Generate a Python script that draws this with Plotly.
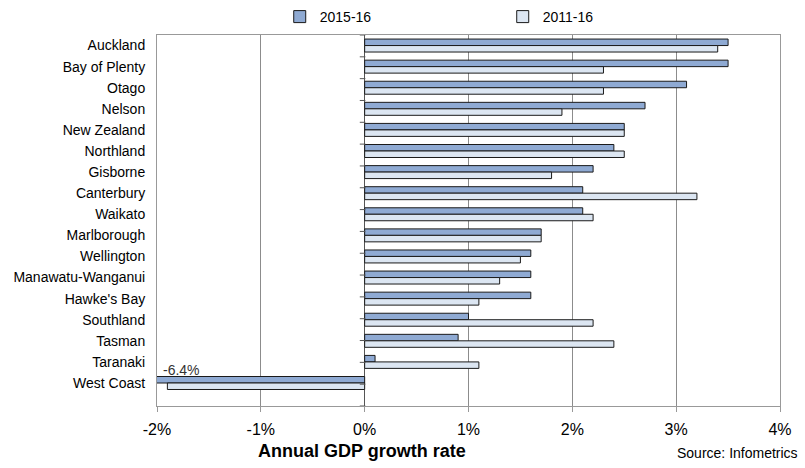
import plotly.graph_objects as go

regions = ["Auckland", "Bay of Plenty", "Otago", "Nelson", "New Zealand", "Northland",
           "Gisborne", "Canterbury", "Waikato", "Marlborough", "Wellington",
           "Manawatu-Wanganui", "Hawke's Bay", "Southland", "Tasman", "Taranaki", "West Coast"]
growth_2015_16 = [3.5, 3.5, 3.1, 2.7, 2.5, 2.4, 2.2, 2.1, 2.1, 1.7, 1.6, 1.6, 1.6, 1.0, 0.9, 0.1, -6.4]
growth_2011_16 = [3.4, 2.3, 2.3, 1.9, 2.5, 2.5, 1.8, 3.2, 2.2, 1.7, 1.5, 1.3, 1.1, 2.2, 2.4, 1.1, -1.9]
x_ticks = [-2, -1, 0, 1, 2, 3, 4]
x_tick_labels = ["-2%", "-1%", "0%", "1%", "2%", "3%", "4%"]
x_range = [-2, 4]

FONT = "Liberation Sans, Arial, sans-serif"
fig = go.Figure()
fig.add_trace(go.Bar(name="2015-16", y=regions, x=growth_2015_16, orientation="h",
                     marker=dict(color="#8FAAD3", line=dict(color="#1a1a1a", width=1))))
fig.add_trace(go.Bar(name="2011-16", y=regions, x=growth_2011_16, orientation="h",
                     marker=dict(color="#DCE6F2", line=dict(color="#1a1a1a", width=1))))

# small category-boundary ticks on the zero axis
n = len(regions)
bounds = [k - 0.5 for k in range(n + 1)]
fig.add_trace(go.Scatter(x=[-0.02] * len(bounds), y=bounds, yaxis="y2", mode="markers",
                         marker=dict(symbol="line-ew", size=4, line=dict(color="#555", width=1)),
                         showlegend=False, hoverinfo="skip", cliponaxis=False))

# clipped value label
clipped = [(r, v) for r, v in zip(regions, growth_2015_16) if v < x_range[0]]
for r, v in clipped:
    fig.add_annotation(x=x_range[0], y=r, text=f"{v}%", showarrow=False, xanchor="left",
                       xshift=4, yshift=13, font=dict(family=FONT, size=14, color="#333"))

fig.add_annotation(x=0.329, y=0, xref="paper", yref="paper", yshift=-45, text="<b>Annual GDP growth rate</b>",
                   showarrow=False, font=dict(family=FONT, size=18, color="#000"), xanchor="center", yanchor="middle")
fig.add_annotation(x=1, y=0, xref="paper", yref="paper", yshift=-47, xshift=20, text="Source: Infometrics",
                   showarrow=False, font=dict(family=FONT, size=14, color="#000"), xanchor="right", yanchor="middle")

fig.update_layout(
    width=805, height=468,
    margin=dict(l=157, r=25, t=35, b=62, autoexpand=False),
    paper_bgcolor="white", plot_bgcolor="white",
    barmode="group", bargap=0.385, bargroupgap=0,
    font=dict(family=FONT, size=14, color="#000"),
    legend=dict(orientation="h", x=0.197, y=1.0485, xanchor="left", yanchor="middle",
                font=dict(size=14), entrywidth=178, itemwidth=30, traceorder="normal"),
    xaxis=dict(range=x_range, tickvals=x_ticks, ticktext=x_tick_labels, tickfont=dict(size=16),
               showgrid=True, gridcolor="#8c8c8c", gridwidth=1,
               zeroline=True, zerolinecolor="#555", zerolinewidth=1,
               showline=True, mirror=True, linecolor="#999", linewidth=1,
               ticks="outside", ticklen=5, tickcolor="#999", ticklabelstandoff=4),
    yaxis=dict(autorange="reversed", showgrid=False, showline=True, mirror=True,
               linecolor="#999", linewidth=1, ticks="", ticklabelstandoff=8,
               tickfont=dict(size=14)),
    yaxis2=dict(overlaying="y", range=[n - 0.5, -0.5], visible=False),
)

fig.write_html("out.html")
